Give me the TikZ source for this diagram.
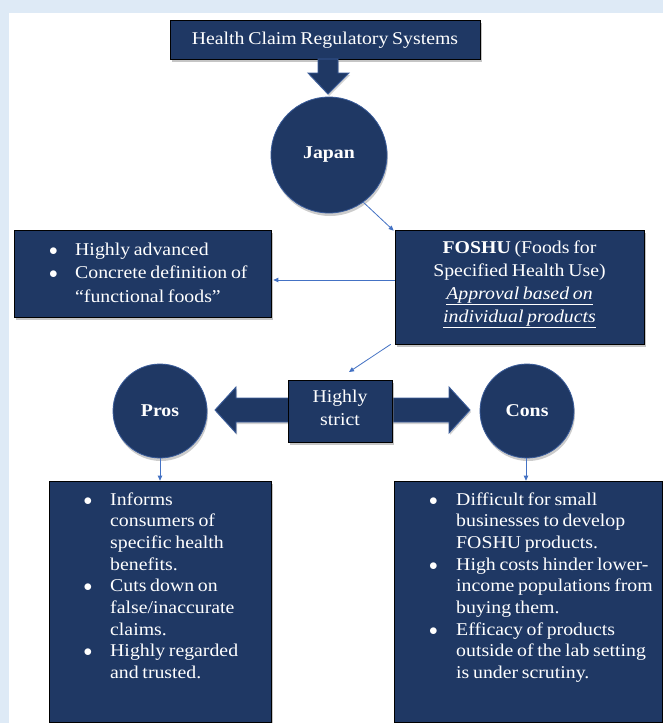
\documentclass[tikz,border=0pt]{standalone}
\usepackage{fontspec}
\setmainfont{Liberation Serif}[FakeStretch=1.1, WordSpace=0.75]
\usetikzlibrary{shadows,arrows.meta}
\definecolor{navy}{HTML}{1F3864}
\definecolor{edgeblue}{HTML}{3A5C9A}
\definecolor{linkblue}{HTML}{4472C4}
\definecolor{bgblue}{HTML}{DEEAF6}
\tikzset{
  box/.style={draw=black, line width=0.7pt, fill=navy, inner sep=0pt,
    drop shadow={shadow xshift=2pt, shadow yshift=-2.5pt, opacity=0.45}},
  disc/.style={circle, draw=edgeblue, line width=0.8pt, fill=navy, inner sep=0pt, text=white,
    font=\fontsize{18}{21}\selectfont\bfseries,
    drop shadow={shadow xshift=1pt, shadow yshift=-3pt, opacity=0.4}},
  txt/.style={text=white, inner sep=0pt},
  link/.style={draw=linkblue, line width=0.8pt, -{Triangle[length=5pt,width=4.5pt]}},
  blockarrow/.style={fill=navy, draw=edgeblue, line width=0.9pt,
    drop shadow={shadow xshift=1pt, shadow yshift=-2pt, opacity=0.35}}
}
\newcommand{\bl}[1]{\makebox[#1][l]{\hspace{-1pt}$\bullet$}}
\begin{document}
\begin{tikzpicture}[x=1pt,y=-1pt]
\useasboundingbox (0,0) rectangle (663,723);
\fill[bgblue] (0,0) rectangle (663,723);
\fill[white] (8.5,12.5) rectangle (663,723);

% title
\node[box, minimum width=310pt, minimum height=39pt] (title) at (325,39.5) {};
\node[txt, font=\fontsize{18}{21}\selectfont, anchor=base] (titletxt) at (325,44.5) {Health Claim Regulatory Systems};

% down block arrow
\path[blockarrow] (318,59) -- (338,59) -- (338,73) -- (349,73) -- (328,94) -- (308,73) -- (318,73) -- cycle;

% Japan
\node[disc, minimum size=116pt] (japan) at (329,155) {Japan};

% left box
\node[box, minimum width=257pt, minimum height=87pt] (left) at (142.5,273.5) {};
\node[txt, anchor=base west, font=\fontsize{18}{23.5}\selectfont] (lefttxt) at (50,255)
  {\begin{tabular}[t]{@{}l@{}l@{}}
   \bl{25pt} & Highly advanced\\
   \bl{25pt} & Concrete definition of\\
   & ``functional foods''
   \end{tabular}};

% FOSHU box
\node[box, minimum width=249pt, minimum height=114pt] (foshu) at (519.5,287) {};
\node[txt, anchor=base, font=\fontsize{18}{23}\selectfont] (foshutxt) at (519.5,253)
  {\begin{tabular}[t]{@{}c@{}}
   \textbf{FOSHU} (Foods for\\
   Specified Health Use)\\
   \underline{\textit{Approval based on}}\\
   \underline{\textit{individual products}}
   \end{tabular}};

% double block arrow
\path[blockarrow] (215,410) -- (236,387) -- (236,398) -- (449,398) -- (449,387) -- (470,410)
   -- (449,433) -- (449,422) -- (236,422) -- (236,433) -- cycle;

% Highly strict
\node[box, minimum width=104pt, minimum height=62pt] (strict) at (340,411) {};
\node[txt, anchor=base, font=\fontsize{18}{23}\selectfont] (stricttxt) at (340,402)
  {\begin{tabular}[t]{@{}c@{}}Highly\\ strict\end{tabular}};

% Pros / Cons
\node[disc, minimum size=94pt] (pros) at (160,411) {Pros};
\node[disc, minimum size=94pt] (cons) at (527,411) {Cons};

% Pros box
\node[box, minimum width=222pt, minimum height=241pt] (prosbox) at (160,601.5) {};
\node[txt, anchor=base west, font=\fontsize{18}{21.7}\selectfont] (prostxt) at (84.5,505)
  {\begin{tabular}[t]{@{}l@{}l@{}}
   \bl{25.5pt} & Informs\\
   & consumers of\\
   & specific health\\
   & benefits.\\
   \bl{25.5pt} & Cuts down on\\
   & false/inaccurate\\
   & claims.\\
   \bl{25.5pt} & Highly regarded\\
   & and trusted.
   \end{tabular}};

% Cons box
\node[box, minimum width=268pt, minimum height=241pt] (consbox) at (528,601.5) {};
\node[txt, anchor=base west, font=\fontsize{18}{21.7}\selectfont] (constxt) at (430,505)
  {\begin{tabular}[t]{@{}l@{}l@{}}
   \bl{26pt} & Difficult for small\\
   & businesses to develop\\
   & FOSHU products.\\
   \bl{26pt} & High costs hinder lower-\\
   & income populations from\\
   & buying them.\\
   \bl{26pt} & Efficacy of products\\
   & outside of the lab setting\\
   & is under scrutiny.
   \end{tabular}};

% thin connectors
\coordinate (hrow) at (0,280);
\coordinate (strictend) at (349,372);
\draw[link] (japan.-54) -- ([xshift=-1pt,yshift=-1pt]foshu.north west);
\draw[link] (foshu.west |- hrow) -- ([xshift=2pt]left.east |- hrow);
\draw[link] ([xshift=-4pt]foshu.south west) -- (strictend);
\draw[link] (pros.south -| prosbox.north) -- (prosbox.north);
\draw[link] (cons.south -| 526,0) -- (consbox.north -| 526,0);
\end{tikzpicture}
\end{document}
